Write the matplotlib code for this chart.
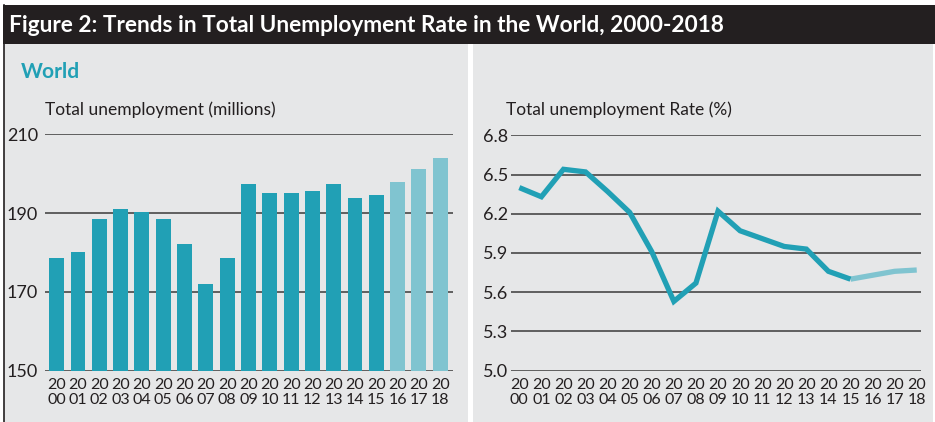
import matplotlib
matplotlib.use("Agg")
import matplotlib.pyplot as plt
from matplotlib.patches import Rectangle
from matplotlib import font_manager

years = list(range(2000, 2019))
tick_labels = [f"20\n{y % 100:02d}" for y in years]
unemployment_millions = [178.6, 180.1, 188.5, 191.0, 190.3, 188.5, 182.1, 172.0, 178.6,
                         197.4, 195.1, 195.1, 195.6, 197.4, 193.8, 194.6, 197.9, 201.2, 204.0]
unemployment_rate = [6.40, 6.33, 6.54, 6.52, 6.37, 6.21, 5.91, 5.53, 5.67,
                     6.22, 6.07, 6.01, 5.95, 5.93, 5.76, 5.70, 5.73, 5.76, 5.77]
projection_start = 2016  # years from here on are projections (lighter colour)

left_yticks = [150, 170, 190, 210]
right_yticks = [5.0, 5.3, 5.6, 5.9, 6.2, 6.5, 6.8]

TEAL = "#21a0b5"
LIGHT = "#80c4d0"
PANEL = "#e6e7e8"
DARK = "#231f20"
GRID = "#3a3a3a"

avail = {f.name for f in font_manager.fontManager.ttflist}
FONT = "Lato" if "Lato" in avail else "DejaVu Sans"
plt.rcParams["font.family"] = [FONT, "DejaVu Sans"]

W, H = 935, 422
fig = plt.figure(figsize=(W / 100, H / 100), dpi=100)
fig.patch.set_facecolor("white")


def fx(px):
    return px / W


def fy(py):
    return 1 - py / H


# panels
fig.patches.append(Rectangle((fx(4), 0), fx(468 - 4), fy(44), transform=fig.transFigure,
                             facecolor=PANEL, edgecolor="none", zorder=-2))
fig.patches.append(Rectangle((fx(473), 0), fx(933 - 473), fy(44), transform=fig.transFigure,
                             facecolor=PANEL, edgecolor="none", zorder=-2))
# left border line
fig.lines.append(plt.Line2D([fx(3.5), fx(3.5)], [0, fy(5)], transform=fig.transFigure,
                            color=DARK, lw=1.2, zorder=-1))
# title bar
fig.patches.append(Rectangle((fx(3), fy(44)), fx(935 - 3), fy(5) - fy(44), transform=fig.transFigure,
                             facecolor=DARK, edgecolor="none", zorder=-1))
fig.text(fx(9), fy(25), "Figure 2: Trends in Total Unemployment Rate in the World, 2000-2018",
         color="white", fontsize=16.3, fontweight="bold", va="center", ha="left", zorder=2)
fig.text(fx(21), fy(72), "World", color=TEAL, fontsize=15, fontweight="bold",
         va="center", ha="left")

colors = [LIGHT if y >= projection_start else TEAL for y in years]
xs = list(range(len(years)))

# left bar chart
ax1 = fig.add_axes([fx(45), fy(370.7), fx(453 - 45), (370.7 - 134.3) / H])
ax1.set_facecolor("none")
ax1.bar(xs, [v - 150 for v in unemployment_millions], bottom=150, width=0.70,
        color=colors, zorder=3)
ax1.set_xlim(-0.55, 18.6)
ax1.set_ylim(150, 210)
ax1.set_yticks(left_yticks)
for t in left_yticks:
    ax1.axhline(t, color=GRID, lw=1.1, zorder=2)
ax1.set_xticks(xs)
ax1.set_xticklabels(tick_labels, fontsize=11.5, color=DARK, linespacing=1.1)
ax1.tick_params(axis="x", length=0, pad=5)
ax1.tick_params(axis="y", length=0, pad=5, labelsize=13, labelcolor=DARK)
for s in ax1.spines.values():
    s.set_visible(False)
fig.text(fx(45), fy(110), "Total unemployment (millions)", fontsize=12.5, color=DARK,
         va="center", ha="left")

# right line chart
ax2 = fig.add_axes([fx(510.7), fy(370.7), fx(920.7 - 510.7), (370.7 - 135.3) / H])
ax2.set_facecolor("none")
for t in right_yticks:
    ax2.axhline(t, color=GRID, lw=1.1, zorder=2)
split = years.index(projection_start) - 1
ax2.plot(xs[split:], unemployment_rate[split:], color=LIGHT, lw=3.8, zorder=3,
         solid_capstyle="butt")
ax2.plot(xs[:split + 1], unemployment_rate[:split + 1], color=TEAL, lw=3.8, zorder=4,
         solid_capstyle="butt", solid_joinstyle="miter")
ax2.set_xlim(-0.39, 18.18)
ax2.set_ylim(5.0, 6.8)
ax2.set_yticks(right_yticks)
ax2.set_yticklabels([f"{t:.1f}" for t in right_yticks])
ax2.set_xticks(xs)
ax2.set_xticklabels(tick_labels, fontsize=11.5, color=DARK, linespacing=1.1)
ax2.tick_params(axis="x", length=0, pad=5)
ax2.tick_params(axis="y", length=0, pad=2, labelsize=13, labelcolor=DARK)
for s in ax2.spines.values():
    s.set_visible(False)
fig.text(fx(506), fy(110), "Total unemployment Rate (%)", fontsize=12.5, color=DARK,
         va="center", ha="left")

fig.savefig("out.png", dpi=100, facecolor="white")
